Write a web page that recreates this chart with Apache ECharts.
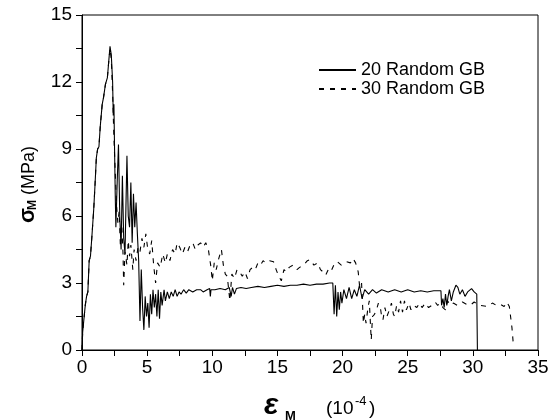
<!DOCTYPE html>
<html>
<head>
<meta charset="utf-8">
<script src="https://cdn.jsdelivr.net/npm/echarts@6/dist/echarts.min.js"></script>
<style>
  html, body { margin: 0; padding: 0; background: #fff; }
  #chart { width: 553px; height: 420px; }
</style>
</head>
<body>
<div id="chart"></div>
<script>
// strain (10^-4) / stress (MPa)
const strain20 = [0, 0.05, 0.2, 0.25, 0.35, 0.45, 0.55, 0.65, 0.75, 0.9, 1.0, 1.1, 1.2, 1.3, 1.4, 1.55, 1.65, 1.8, 1.95, 2.05, 2.15, 2.25, 2.35, 2.4, 2.45, 2.5, 2.55, 2.6, 2.7, 2.8, 2.9, 3.0, 3.1, 3.2, 3.3, 3.45, 3.55, 3.65, 3.75, 3.85, 3.95, 4.05, 4.15, 4.25, 4.35, 4.45, 4.55, 4.65, 4.75, 4.85, 4.95, 5.05, 5.15, 5.25, 5.35, 5.45, 5.55, 5.65, 5.75, 5.85, 5.95, 6.05, 6.15, 6.3, 6.4, 6.55, 6.7, 6.85, 7.0, 7.15, 7.3, 7.45, 7.6, 7.8, 8.0, 8.2, 8.5, 8.8, 9.1, 9.3, 9.6, 9.8, 9.85, 9.9, 10.2, 10.6, 11.0, 11.3, 11.45, 11.55, 11.7, 11.85, 12.2, 12.6, 13.0, 13.5, 14.0, 14.5, 15.0, 15.5, 16.0, 16.5, 17.0, 17.5, 18.0, 18.5, 19.0, 19.25, 19.35, 19.45, 19.55, 19.65, 19.75, 19.85, 19.95, 20.1, 20.3, 20.5, 20.7, 20.9, 21.1, 21.3, 21.5, 21.7, 22.0, 22.3, 22.6, 23.0, 23.5, 24.0, 24.5, 25.0, 25.5, 26.0, 26.5, 27.0, 27.55, 27.6, 27.7, 27.8, 27.9, 28.0, 28.1, 28.2, 28.35, 28.5, 28.7, 28.85, 29.0, 29.2, 29.4, 29.6, 29.9, 30.1, 30.3, 30.35];
const stress20 = [0, 0.8, 0.8, 2.0, 2.4, 2.6, 4.0, 4.2, 5.0, 6.3, 7.4, 8.6, 9.0, 9.1, 10.0, 11.0, 11.3, 11.9, 12.2, 12.9, 13.6, 13.2, 12.0, 10.5, 11.0, 9.0, 7.0, 5.5, 7.5, 9.2, 6.0, 4.5, 7.8, 5.0, 4.3, 8.7, 6.0, 5.5, 7.5, 4.8, 7.0, 5.5, 6.6, 5.2, 4.0, 1.3, 3.6, 1.9, 0.9, 2.4, 1.5, 2.1, 1.0, 2.5, 1.6, 2.7, 1.9, 2.5, 1.5, 2.7, 1.4, 2.6, 2.0, 2.7, 2.2, 2.6, 2.3, 2.6, 2.4, 2.7, 2.4, 2.6, 2.5, 2.7, 2.55, 2.7, 2.6, 2.7, 2.7, 2.6, 2.7, 2.75, 2.4, 2.7, 2.7, 2.75, 2.7, 2.8, 2.4, 2.8, 2.5, 2.75, 2.8, 2.75, 2.8, 2.85, 2.8, 2.85, 2.9, 2.85, 2.9, 2.9, 2.95, 2.9, 2.95, 2.95, 3.0, 3.0, 1.6, 2.9, 1.5, 2.6, 1.8, 2.6, 2.1, 2.7, 2.3, 2.8, 2.3, 2.7, 2.4, 2.9, 2.3, 2.7, 2.5, 2.7, 2.55, 2.7, 2.6, 2.7, 2.6, 2.7, 2.6, 2.65, 2.6, 2.65, 2.65, 2.0, 2.3, 1.9, 2.5, 2.0, 2.4, 2.7, 2.2, 2.6, 2.9, 2.8, 2.5, 2.7, 2.4, 2.6, 2.75, 2.6, 2.5, 0];

const strain30 = [0, 0.05, 0.2, 0.25, 0.35, 0.45, 0.55, 0.65, 0.75, 0.9, 1.0, 1.1, 1.2, 1.3, 1.4, 1.55, 1.65, 1.8, 1.95, 2.05, 2.15, 2.25, 2.35, 2.45, 2.55, 2.65, 2.75, 2.85, 2.95, 3.05, 3.15, 3.2, 3.3, 3.45, 3.55, 3.65, 3.75, 3.9, 4.0, 4.15, 4.3, 4.45, 4.6, 4.75, 4.9, 5.05, 5.2, 5.35, 5.5, 5.65, 5.8, 6.0, 6.2, 6.4, 6.55, 6.75, 6.95, 7.15, 7.3, 7.5, 7.7, 7.9, 8.1, 8.3, 8.5, 8.7, 8.9, 9.1, 9.3, 9.5, 9.7, 9.9, 10.0, 10.15, 10.3, 10.5, 10.7, 10.85, 11.0, 11.15, 11.35, 11.5, 11.7, 11.9, 12.1, 12.3, 12.5, 12.7, 12.9, 13.1, 13.3, 13.5, 13.7, 13.9, 14.1, 14.4, 14.7, 14.9, 15.1, 15.3, 15.5, 15.7, 15.9, 16.2, 16.5, 16.7, 17.0, 17.3, 17.5, 17.8, 18.1, 18.3, 18.5, 18.7, 18.9, 19.1, 19.4, 19.6, 19.9, 20.1, 20.3, 20.6, 20.8, 21.0, 21.2, 21.3, 21.45, 21.6, 21.7, 21.8, 21.95, 22.05, 22.2, 22.3, 22.45, 22.6, 22.75, 22.9, 23.0, 23.1, 23.25, 23.4, 23.6, 23.75, 23.9, 24.0, 24.15, 24.3, 24.45, 24.6, 24.75, 24.9, 25.1, 25.25, 25.45, 25.7, 25.9, 26.1, 26.35, 26.6, 26.85, 27.1, 27.3, 27.5, 27.7, 27.9, 28.05, 28.3, 28.5, 28.8, 29.2, 29.5, 29.8, 30.1, 30.5, 31.1, 31.5, 31.8, 32.1, 32.4, 32.6, 32.8, 33.0, 33.1];
const stress30 = [0, 0.8, 0.8, 2.0, 2.4, 2.6, 4.0, 4.2, 5.0, 6.3, 7.4, 8.6, 9.0, 9.1, 10.0, 11.0, 11.3, 11.9, 12.2, 12.9, 13.5, 13.0, 11.5, 9.5, 8.0, 6.5, 5.7, 6.2, 4.6, 5.6, 4.3, 2.9, 4.4, 3.8, 4.9, 4.2, 4.7, 3.6, 4.5, 4.0, 4.6, 4.4, 5.0, 4.6, 5.2, 4.5, 4.3, 4.9, 3.8, 3.0, 3.9, 3.7, 4.3, 3.9, 4.3, 4.0, 4.5, 4.3, 4.8, 4.6, 4.3, 4.6, 4.4, 4.7, 4.8, 4.5, 4.7, 4.8, 4.6, 4.8, 4.5, 3.7, 3.1, 3.9, 3.6, 4.1, 4.5, 3.8, 3.4, 3.3, 2.2, 3.4, 3.2, 3.6, 3.5, 3.3, 3.5, 3.2, 3.6, 3.7, 3.6, 3.9, 3.8, 4.0, 3.9, 4.0, 3.95, 3.6, 3.3, 3.1, 3.6, 3.5, 3.7, 3.8, 3.6, 3.7, 3.8, 4.0, 4.05, 3.8, 3.9, 3.6, 3.5, 3.35, 3.6, 3.5, 3.9, 3.95, 3.8, 3.9, 3.95, 3.9, 4.1, 3.9, 3.5, 2.9, 3.1, 1.2, 1.6, 1.2, 1.9, 2.2, 0.45, 1.5, 1.6, 1.8, 2.1, 1.9, 1.5, 1.35, 1.9, 1.5, 1.8, 2.1, 1.6, 1.5, 2.0, 1.7, 2.2, 1.7, 2.2, 1.8, 2.1, 1.8, 2.0, 1.9, 2.1, 1.9, 2.1, 1.9, 2.0, 2.15, 2.0, 2.1, 1.9, 1.8, 2.2, 2.0, 2.1, 2.0, 2.15, 2.05, 2.0, 2.15, 2.0, 1.95, 2.1, 2.0, 2.05, 1.95, 2.15, 1.95, 1.0, 0.3];

const seriesNames = ['20 Random GB', '30 Random GB'];
const xTicks = { min: 0, max: 35, interval: 5 };
const yTicks = { min: 0, max: 15, interval: 3 };

const font = 'Arial, "Liberation Sans", sans-serif';
const chart = echarts.init(document.getElementById('chart'));

function axis(t, margin) {
  return {
    type: 'value',
    min: t.min, max: t.max, interval: t.interval,
    axisLine: { show: true, lineStyle: { color: '#000', width: 1 } },
    axisTick: { show: true, inside: false, length: 6, lineStyle: { color: '#000' } },
    minorTick: { show: true, splitNumber: 2, length: 6, lineStyle: { color: '#000' } },
    splitLine: { show: false },
    axisLabel: { color: '#000', fontSize: 19, fontFamily: font, margin: margin }
  };
}

const option = {
  animation: false,
  backgroundColor: '#fff',
  grid: { left: 82, right: 15, top: 15, bottom: 70, show: true, borderColor: '#000', borderWidth: 1 },
  xAxis: axis(xTicks, 8),
  yAxis: axis(yTicks, 10),
  legend: {
    data: seriesNames,
    orient: 'vertical',
    left: 318, top: 61, padding: 0,
    itemWidth: 37, itemHeight: 12, itemGap: 1,
    itemStyle: { opacity: 0 },
    textStyle: { color: '#000', fontSize: 18, fontFamily: font }
  },
  series: [
    {
      name: seriesNames[0], type: 'line', symbol: 'none',
      data: strain20.map((x, i) => [x, stress20[i]]),
      itemStyle: { color: '#000' },
      lineStyle: { color: '#000', width: 1.1 }
    },
    {
      name: seriesNames[1], type: 'line', symbol: 'none',
      data: strain30.map((x, i) => [x, stress30[i]]),
      itemStyle: { color: '#000' },
      lineStyle: { color: '#000', width: 1.1, type: [5, 6] }
    }
  ],
  graphic: [
    // y axis title, rotated
    {
      type: 'group', x: 28, y: 223, rotation: Math.PI / 2,
      children: [
        { type: 'text', x: 0, y: 0, style: { text: 'σ', font: 'bold 22px ' + font, fill: '#000', textAlign: 'left', textVerticalAlign: 'middle' } },
        { type: 'text', x: 13, y: 5, style: { text: 'M', font: 'bold 12px ' + font, fill: '#000', textAlign: 'left', textVerticalAlign: 'middle' } },
        { type: 'text', x: 28, y: 1, style: { text: '(MPa)', font: '18px ' + font, fill: '#000', textAlign: 'left', textVerticalAlign: 'middle' } }
      ]
    },
    // x axis title
    { type: 'text', left: 264, top: 391, style: { text: 'ε', font: 'italic bold 30px ' + font, fill: '#000' } },
    { type: 'text', left: 285, top: 410, style: { text: 'M', font: 'bold 13px ' + font, fill: '#000' } },
    { type: 'text', left: 326, top: 399, style: { text: '(10', font: '19px ' + font, fill: '#000' } },
    { type: 'text', left: 355, top: 395, style: { text: '-4', font: '13px ' + font, fill: '#000' } },
    { type: 'text', left: 369, top: 399, style: { text: ')', font: '19px ' + font, fill: '#000' } }
  ]
};

chart.setOption(option);
</script>
</body>
</html>
